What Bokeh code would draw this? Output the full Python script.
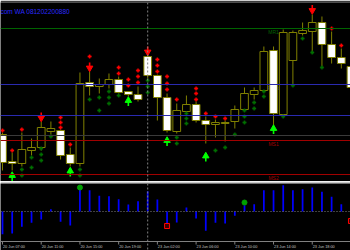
from bokeh.plotting import figure
from bokeh.layouts import column
from bokeh.models import Range1d, Span
from bokeh.embed import file_html
from bokeh.resources import INLINE
from bokeh.core.properties import value

# ---------------- data (hourly bars) ----------------
open_p = [1.3538, 1.3537, 1.3551, 1.3553, 1.3573, 1.3572, 1.3545, 1.3537, 1.3617, 1.3614,
          1.3616, 1.3621, 1.3608, 1.3606, 1.3601, 1.3625, 1.3603, 1.3570, 1.3590, 1.3596,
          1.3580, 1.3576, 1.3578, 1.3578, 1.3591, 1.3607, 1.3610, 1.3649, 1.3587, 1.3668,
          1.3668, 1.3670, 1.3678, 1.3656, 1.3643, 1.3637, 1.3613]
close_p = [1.3566, 1.3539, 1.3537, 1.3550, 1.3553, 1.3569, 1.3570, 1.3546, 1.3537, 1.3618,
           1.3614, 1.3616, 1.3621, 1.3609, 1.3606, 1.3644, 1.3625, 1.3603, 1.3569, 1.3589,
           1.3596, 1.3580, 1.3576, 1.3577, 1.3579, 1.3591, 1.3606, 1.3610, 1.3650, 1.3586,
           1.3640, 1.3667, 1.3669, 1.3678, 1.3656, 1.3643, 1.3634]
high_p = [1.3568, 1.3548, 1.3568, 1.3562, 1.3579, 1.3579, 1.3571, 1.3553, 1.3628, 1.3629,
          1.3622, 1.3627, 1.3624, 1.3609, 1.3614, 1.3646, 1.3626, 1.3607, 1.3597, 1.3605,
          1.3599, 1.3584, 1.3581, 1.3580, 1.3595, 1.3613, 1.3613, 1.3654, 1.3654, 1.3671,
          1.3670, 1.3678, 1.3686, 1.3684, 1.3669, 1.3652, 1.3638]
low_p = [1.3530, 1.3530, 1.3534, 1.3545, 1.3550, 1.3566, 1.3541, 1.3534, 1.3534, 1.3605,
         1.3607, 1.3612, 1.3607, 1.3604, 1.3599, 1.3622, 1.3580, 1.3568, 1.3567, 1.3588,
         1.3578, 1.3557, 1.3563, 1.3559, 1.3572, 1.3590, 1.3601, 1.3609, 1.3573, 1.3585,
         1.3616, 1.3665, 1.3647, 1.3634, 1.3637, 1.3632, 1.3610]

tick_idx = [0, 4, 8, 12, 16, 20, 24, 28, 32]
tick_labels = ["20 Jun 07:00", "20 Jun 11:00", "20 Jun 15:00", "20 Jun 19:00", "23 Jun 02:00",
               "23 Jun 06:00", "23 Jun 10:00", "23 Jun 14:00", "23 Jun 18:00"]
day_sep_idx = [15]

level_names = ["MR1", "Pivot", "MS1", "MS2"]
level_prices = [1.3672, 1.3616, 1.3560, 1.3526]
level_colors = ["#006400", "#2a2ab0", "#a00000", "#a00000"]
level_label_idx = 28
extra_level = 1.3585
bid_price = 1.3565

comment_text = "com WA 081202200880"

red_arrow_idx = [4, 9, 15, 32]
red_arrow_y = [1.3584, 1.3634, 1.3650, 1.36915]
green_arrow_idx = [1, 7, 13, 17, 21, 28]
green_arrow_y = [1.35235, 1.3528, 1.35985, 1.35585, 1.3543, 1.35705]

red_star_idx = [0, 1, 2, 6, 6, 6, 7, 9, 12, 12, 13, 13, 14, 14, 14, 16, 16, 16,
                17, 17, 17, 18, 20, 20, 20, 21, 22, 23, 34, 35]
red_star_y = [1.3570, 1.3550, 1.3571, 1.3583, 1.3578, 1.3573, 1.3556, 1.3644, 1.3633, 1.3627,
              1.3621, 1.3615, 1.3630, 1.3624, 1.3618, 1.3641, 1.3635, 1.3629,
              1.3624, 1.3617, 1.3611, 1.3601, 1.3612, 1.3607, 1.3601, 1.3587, 1.3584, 1.3582,
              1.3672, 1.3655]
green_star_idx = [2, 2, 3, 3, 4, 4, 4, 5, 8, 8, 9, 10, 10, 11, 11, 11, 12, 15, 15, 15,
                  18, 18, 19, 19, 19, 22, 23, 24, 25, 25, 25, 26, 26, 27, 27, 29, 30, 31, 32, 33]
green_star_y = [1.3531, 1.3525, 1.3543, 1.3533, 1.3552, 1.3546, 1.3540, 1.3564, 1.3531, 1.3525,
                1.3601, 1.3603, 1.3590, 1.3609, 1.3603, 1.3597, 1.3605, 1.3620, 1.3614, 1.3608,
                1.3563, 1.3557, 1.3587, 1.3582, 1.3577, 1.3550, 1.3553, 1.3566, 1.3590, 1.3584,
                1.3578, 1.3598, 1.3592, 1.3609, 1.3604, 1.3584, 1.3615, 1.3662, 1.3648, 1.3633]

osc = [-0.00227, -0.0022, -0.00153, -0.00113, -0.0008, 0.00023, -0.00103, -0.0014, 0.0024, 0.00213,
       0.00157, 0.00153, 0.00123, 0.0007, 0.00103, 0.00203, 0.0012, -0.0013, -0.0011, 0.0004,
       -0.0007, -0.00193, -0.00113, -0.0012, -0.00043, 0.00063, 0.00073, 0.00213, 0.00213, 0.00263,
       0.00213, 0.00223, 0.0024, 0.00197, 0.00147, 0.00073, -0.001]
osc_up_idx = [8, 25]
osc_up_y = [0.0024, 0.0009]
osc_dn_idx = [17, 36]
osc_dn_y = [-0.00145, -0.00095]

# ---------------- layout constants ----------------
W = 350
MAIN_H = 181
LOW_H = 69
X_RANGE = Range1d(-0.2066, 35.95)
MAIN_Y = Range1d(1.3519, 1.3698)
LOW_Y = Range1d(-0.0039, 0.0028)
PX = (MAIN_Y.end - MAIN_Y.start) / (MAIN_H - 2)
LPX = (LOW_Y.end - LOW_Y.start) / (LOW_H - 2)
OLIVE = "#808000"
FONT = value("Liberation Sans")

idx = list(range(len(open_p)))
body_top = [max(o, c) for o, c in zip(open_p, close_p)]
body_bot = [min(o, c) for o, c in zip(open_p, close_p)]
body_fill = ["#ffffff" if c >= o else "#000000" for o, c in zip(open_p, close_p)]

p = figure(width=W, height=MAIN_H, x_range=X_RANGE, y_range=MAIN_Y,
           output_backend="svg", toolbar_location=None,
           x_axis_type=None, y_axis_type=None,
           background_fill_color="#000000", border_fill_color="#3c3c3c",
           outline_line_color=None)
p.min_border = 0
p.min_border_top = 2

# levels
for lv, col in zip(level_prices, level_colors):
    p.add_layout(Span(location=lv, dimension="width", line_color=col, line_width=1))
p.add_layout(Span(location=extra_level, dimension="width", line_color="#2a2ab0", line_width=1))
p.add_layout(Span(location=bid_price, dimension="width", line_color="#3a3a3a", line_width=1))
for d in day_sep_idx:
    p.add_layout(Span(location=d, dimension="height", line_color="#808080",
                      line_width=1, line_dash="2 2"))

p.text(x=[level_label_idx] * len(level_names), y=[v - 0.5 * PX for v in level_prices],
       text=level_names, text_color=level_colors, text_font=FONT, text_font_size="5px",
       text_align="center", text_baseline="top")

p.text(x=[X_RANGE.start], y=[MAIN_Y.end - 9 * PX], text=[comment_text],
       text_color="#2a2aff", text_font=FONT, text_font_size="6.5px",
       text_align="left", text_baseline="middle")

# candles
p.segment(x0=idx, y0=low_p, x1=idx, y1=high_p, line_color=OLIVE, line_width=1)
p.vbar(x=idx, top=body_top, bottom=body_bot, width=0.8, fill_color=body_fill,
       line_color=OLIVE, line_width=1)

# stars
p.scatter(x=red_star_idx, y=red_star_y, marker="plus", size=3.6, fill_color="#ff0000",
          line_color="#ff0000", line_width=0.3)
p.scatter(x=green_star_idx, y=green_star_y, marker="plus", size=3.6, fill_color="#007000",
          line_color="#007000", line_width=0.3)

# red down arrows
p.segment(x0=red_arrow_idx, x1=red_arrow_idx,
          y0=[v + 4 * PX for v in red_arrow_y], y1=red_arrow_y,
          line_color="#ff0000", line_width=1.6)
p.scatter(x=red_arrow_idx, y=[v - 1.5 * PX for v in red_arrow_y], marker="inverted_triangle",
          size=6.5, fill_color="#ff0000", line_color="#ff0000")
# green up arrows
p.segment(x0=green_arrow_idx, x1=green_arrow_idx,
          y0=[v - 4 * PX for v in green_arrow_y], y1=green_arrow_y,
          line_color="#00ff00", line_width=1.6)
p.scatter(x=green_arrow_idx, y=[v + 1.5 * PX for v in green_arrow_y], marker="triangle",
          size=6.5, fill_color="#00ff00", line_color="#00ff00")

# ---------------- lower panel ----------------
q = figure(width=W, height=LOW_H, x_range=X_RANGE, y_range=LOW_Y,
           output_backend="svg", toolbar_location=None,
           x_axis_type=None, y_axis_type=None,
           background_fill_color="#000000", border_fill_color="#c8c8c8",
           outline_line_color=None)
q.min_border = 0
q.min_border_top = 2

q.add_layout(Span(location=0, dimension="width", line_color="#808080", line_width=1,
                  line_dash="1 2"))
for d in day_sep_idx:
    q.add_layout(Span(location=d, dimension="height", line_color="#808080",
                      line_width=1, line_dash="2 2"))
q.vbar(x=idx, top=osc, bottom=0, width=0.18, fill_color="#0000ff", line_color=None)
q.scatter(x=osc_up_idx, y=osc_up_y, marker="circle", size=5, fill_color="#00a000",
          line_color="#00a000")
q.scatter(x=osc_dn_idx, y=osc_dn_y, marker="square", size=5, fill_color="#400000",
          line_color="#ff0000", line_width=1)

# time axis drawn at the bottom of the lower panel
axis_y = LOW_Y.start + 9 * LPX
q.add_layout(Span(location=axis_y, dimension="width", line_color="#808080", line_width=1))
q.segment(x0=tick_idx, x1=tick_idx, y0=[axis_y] * len(tick_idx),
          y1=[axis_y - 3 * LPX] * len(tick_idx), line_color="#808080", line_width=1)
q.text(x=[t + 0.05 for t in tick_idx], y=[axis_y - 5.5 * LPX] * len(tick_idx), text=tick_labels,
       text_color="#c0c0c0", text_font=FONT, text_font_size="3.8px",
       text_align="left", text_baseline="middle")

layout = column(p, q, spacing=0)
open("out.html", "w").write(file_html(layout, INLINE))
